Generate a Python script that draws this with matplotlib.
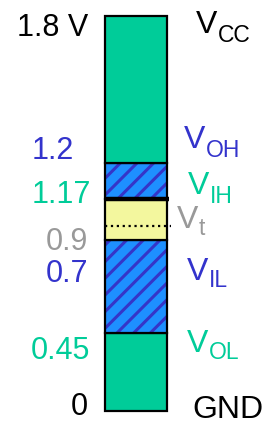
import numpy as np
import matplotlib.pyplot as plt

plt.rcParams['font.family'] = ['Liberation Sans', 'DejaVu Sans']
plt.rcParams['hatch.linewidth'] = 2.2

# schematic band heights (not to scale), bottom -> top
bands = ['GND-VOL', 'VOL-VIL', 'VIL-VIH', 'VIH-VOH', 'VOH-VCC']
band_heights = [78, 93, 41, 36, 147]
band_kind = ['solid', 'hatch', 'yellow', 'hatch', 'solid']
vt_offset = 14  # where Vt sits inside the transition band

left_labels = ['1.8 V', '1.2', '1.17', '0.9', '0.7', '0.45', '0']
right_main = ['V', 'V', 'V', 'V', 'V', 'V', 'GND']
right_sub = ['CC', 'OH', 'IH', 't', 'IL', 'OL', '']

GREEN = '#00CC99'
BLUE = '#3333CC'
LIGHTBLUE = '#1E90FF'
YELLOW = '#F3F79E'
GRAY = '#999999'
label_colors = ['black', BLUE, GREEN, GRAY, BLUE, GREEN, 'black']

# layout (pixels, baselines)
left_x = [17, 32, 32, 46, 46, 31, 71]
left_y = [396, 273, 229, 182, 150, 73, 17]
right_x = [196, 184, 188, 177, 187, 187, 192]
right_y = [399, 284, 238, 204, 152, 80, 14]
sub_drop = [9, 9, 9, 7, 7, 7, 0]

fig = plt.figure(figsize=(2.69, 4.32), dpi=100)
ax = fig.add_axes([0, 0, 1, 1])
ax.set_xlim(0, 269)
ax.set_ylim(0, 432)
ax.axis('off')

x0, w = 136, 62
base = 21
bottoms = base + np.concatenate([[0], np.cumsum(band_heights)[:-1]])
face = {'solid': GREEN, 'hatch': LIGHTBLUE, 'yellow': YELLOW}
for b, h, k in zip(bottoms, band_heights, band_kind):
    if k == 'hatch':
        ax.bar(x0, h, w, bottom=b, color=LIGHTBLUE, edgecolor='#3535C8', hatch='//', linewidth=0)
    else:
        ax.bar(x0, h, w, bottom=b, color=face[k], linewidth=0)
    ax.bar(x0, h, w, bottom=b, fill=False, edgecolor='black', linewidth=1.6)

# Vt dotted line and thick VIH line
ti = band_kind.index('yellow')
ax.plot([x0 - w / 2, x0 + w / 2 + 4], [bottoms[ti] + vt_offset] * 2, color='black', linestyle=':', linewidth=1.6)
ax.plot([x0 - w / 2 - 1, x0 + w / 2 + 2], [bottoms[ti] + band_heights[ti]] * 2, color='black', linewidth=3.2,
        solid_capstyle='butt')

for lab, x, y, c in zip(left_labels, left_x, left_y, label_colors):
    ax.text(x, y, lab, color=c, fontsize=22, ha='left', va='baseline')

for m, s, x, y, d, c in zip(right_main, right_sub, right_x, right_y, sub_drop, label_colors):
    t = ax.text(x, y, m, color=c, fontsize=23, ha='left', va='baseline')
    if s:
        ax.annotate(s, xy=(1, y - d), xycoords=(t, 'data'), xytext=(0.5, 0), textcoords='offset points',
                    color=c, fontsize=16.5, ha='left', va='baseline')

fig.savefig('out.png', dpi=100)
